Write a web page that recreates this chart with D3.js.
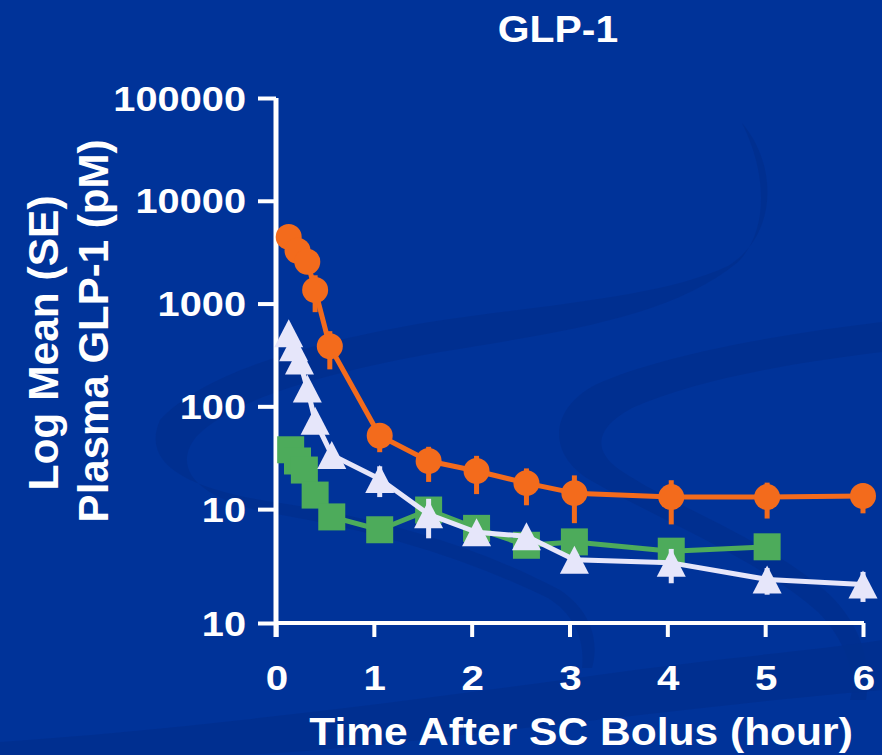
<!DOCTYPE html>
<html>
<head>
<meta charset="utf-8">
<script src="https://cdn.jsdelivr.net/npm/d3@7"></script>
<style>
  html, body { margin: 0; padding: 0; background: #003399; }
  svg { display: block; }
  text { font-family: "Liberation Sans", Arial, sans-serif; font-weight: bold; fill: #ffffff; }
</style>
</head>
<body>
<svg id="chart" width="882" height="755"></svg>
<script>
// Plasma GLP-1 after a subcutaneous bolus, three groups (log scale, mean with SE)
const hoursOrange = [0.13, 0.22, 0.32, 0.40, 0.55, 1.06, 1.56, 2.05, 2.56, 3.05, 4.04, 5.02, 6.0];
const glpOrange   = [4450, 3260, 2550, 1355, 384, 51.8, 29.4, 23.5, 17.9, 14.3, 13.1, 13.1, 13.4];
const seOrange    = [0, 0, 0, 530, 155, 16, 11, 9.5, 7, 7, 6, 5, 4.3];

const hoursGreen = [0.15, 0.22, 0.29, 0.40, 0.57, 1.06, 1.56, 2.05, 2.56, 3.05, 4.04, 5.02];
const glpGreen   = [37.8, 29.4, 24.0, 13.7, 8.4, 6.3, 9.8, 6.5, 4.45, 4.8, 3.9, 4.3];

const hoursWhite = [0.13, 0.18, 0.24, 0.32, 0.40, 0.57, 1.06, 1.56, 2.05, 2.56, 3.05, 4.04, 5.02, 6.0];
const glpWhite   = [514, 376, 280, 149, 72.6, 33.7, 19.6, 8.9, 5.96, 5.44, 3.21, 3.0, 2.07, 1.85];
const seWhite    = [0, 0, 0, 0, 0, 0, 6.5, 3.7, 0, 0, 0, 1.1, 0.6, 0.6];

const xTickValues = [0, 1, 2, 3, 4, 5, 6];
const xTickLabels = ["0", "1", "2", "3", "4", "5", "6"];
const yTickValues = [100000, 10000, 1000, 100, 10, 0.78];
const yTickLabels = ["100000", "10000", "1000", "100", "10", "10"];

const titleText = "GLP-1";
const xTitle = "Time After SC Bolus (hour)";
const yTitle1 = "Log Mean (SE)";
const yTitle2 = "Plasma GLP-1 (pM)";

const COLORS = { orange: "#f36b1c", green: "#4dab5b", white: "#e6e6fa", axis: "#ffffff", bg: "#003399", swoosh: "#002f8e" };

const svg = d3.select("#chart");
const W = 882, H = 755;

svg.append("rect").attr("width", W).attr("height", H).attr("fill", COLORS.bg);

// faint decorative swooshes in the slide background
const swooshes = [
  "M742,123 C778,165 778,235 728,266 C660,298 540,305 430,322 C310,342 205,372 160,420 C140,465 190,490 280,503 C390,520 480,548 560,590 C590,610 600,640 592,668 L582,668 C585,640 575,615 548,598 C470,560 380,532 282,515 C200,502 170,470 196,437 C232,398 330,372 440,352 C560,332 670,318 738,262 C768,232 768,175 742,123 Z",
  "M882,322 C780,334 660,355 595,385 C548,410 548,455 590,480 C660,520 760,560 818,612 C850,645 856,680 850,700 L866,700 C872,660 860,625 830,595 C770,540 680,510 620,470 C592,450 595,428 632,408 C700,378 800,362 882,352 Z",
  "M0,755 L0,742 C200,728 420,700 620,672 C720,658 820,650 882,640 L882,690 C760,700 600,720 420,740 C330,750 260,755 230,755 Z"
];
svg.append("g").selectAll("path").data(swooshes).join("path")
  .attr("d", d => d).attr("fill", COLORS.swoosh).attr("opacity", 0.85);

const x = d3.scaleLinear().domain([0, 6]).range([276, 863]);
const y = d3.scaleLog().domain([0.78, 100000]).range([623, 98]);

const SX = 1.12; // horizontal stretch of the slide lettering

// title
svg.append("text").attr("transform", `translate(558,42) scale(${SX},1)`)
  .attr("text-anchor", "middle").attr("font-size", 36.5).text(titleText);

// y axis
const yAxis = d3.axisLeft(y).tickValues(yTickValues).tickSize(18).tickSizeOuter(0).tickFormat("");
const gy = svg.append("g").attr("transform", "translate(276,0)").call(yAxis);
gy.select(".domain").remove();
gy.selectAll(".tick line").attr("stroke", COLORS.axis).attr("stroke-width", 4);
svg.append("line").attr("x1", 276).attr("x2", 276).attr("y1", y(100000)).attr("y2", 637)
  .attr("stroke", COLORS.axis).attr("stroke-width", 5);

svg.append("g").selectAll("text").data(yTickValues).join("text")
  .attr("transform", d => `translate(246,${y(d) + 12.5}) scale(${SX},1)`)
  .attr("text-anchor", "end").attr("font-size", 35.5)
  .text((d, i) => yTickLabels[i]);

// x axis
const xAxis = d3.axisBottom(x).tickValues(xTickValues).tickSize(14).tickSizeOuter(0).tickFormat("");
const gx = svg.append("g").attr("transform", "translate(0,623)").call(xAxis);
gx.select(".domain").remove();
gx.selectAll(".tick line").attr("stroke", COLORS.axis).attr("stroke-width", 4);
svg.append("line").attr("x1", 274).attr("x2", x(6) + 1).attr("y1", 623).attr("y2", 623)
  .attr("stroke", COLORS.axis).attr("stroke-width", 4);

svg.append("g").selectAll("text").data(xTickValues).join("text")
  .attr("transform", d => `translate(${x(d) + 1},690) scale(${SX},1)`)
  .attr("text-anchor", "middle").attr("font-size", 36)
  .text((d, i) => xTickLabels[i]);

svg.append("text").attr("transform", `translate(581,745) scale(${SX},1)`)
  .attr("text-anchor", "middle").attr("font-size", 38).text(xTitle);

svg.append("text").attr("transform", "translate(58,343) rotate(-90)")
  .attr("text-anchor", "middle").attr("font-size", 42.5).text(yTitle1);
svg.append("text").attr("transform", "translate(108,331) rotate(-90)")
  .attr("text-anchor", "middle").attr("font-size", 42).text(yTitle2);

// series
function series(hours, vals, se, color, marker) {
  const pts = hours.map((h, i) => ({ h, v: vals[i], s: se ? se[i] : 0 }));
  const g = svg.append("g");
  g.append("path").datum(pts)
    .attr("d", d3.line().x(d => x(d.h)).y(d => y(d.v)))
    .attr("fill", "none").attr("stroke", color).attr("stroke-width", 5).attr("stroke-linejoin", "round");
  g.selectAll(".err").data(pts.filter(d => d.s > 0)).join("line").attr("class", "err")
    .attr("x1", d => x(d.h)).attr("x2", d => x(d.h))
    .attr("y1", d => y(d.v + d.s)).attr("y2", d => y(Math.max(d.v - d.s, 0.5)))
    .attr("stroke", color).attr("stroke-width", 5);
  const m = g.selectAll(".mk").data(pts).join("path").attr("class", "mk")
    .attr("transform", d => `translate(${x(d.h)},${y(d.v)})`)
    .attr("fill", color);
  if (marker === "circle") m.attr("d", d3.symbol(d3.symbolCircle, Math.PI * 13 * 13)());
  if (marker === "square") m.attr("d", "M-13.5,-13.5H13.5V13.5H-13.5Z");
  if (marker === "triangle") m.attr("d", "M0,-14L14.5,14L-14.5,14Z");
}

series(hoursOrange, glpOrange, seOrange, COLORS.orange, "circle");
series(hoursGreen, glpGreen, null, COLORS.green, "square");
series(hoursWhite, glpWhite, seWhite, COLORS.white, "triangle");
</script>
</body>
</html>
